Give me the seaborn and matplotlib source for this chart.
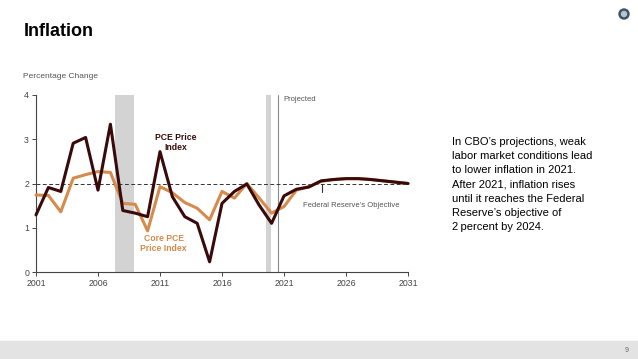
import matplotlib
matplotlib.use("Agg")
import matplotlib.pyplot as plt
from matplotlib.patches import Ellipse, Rectangle
import seaborn as sns
import pandas as pd

# ---- data ----
years = list(range(2001, 2032))
pce = [1.29, 1.91, 1.82, 2.91, 3.04, 1.85, 3.34, 1.39, 1.33, 1.25,
       2.72, 1.70, 1.25, 1.10, 0.23, 1.55, 1.82, 1.99, 1.51, 1.10,
       1.72, 1.87, 1.92, 2.06, 2.09, 2.11, 2.11, 2.09, 2.06, 2.03, 2.00]
core_pce = [1.74, 1.73, 1.36, 2.12, 2.20, 2.27, 2.25, 1.55, 1.53, 0.93,
            1.93, 1.79, 1.57, 1.44, 1.18, 1.82, 1.67, 2.00, 1.67, 1.33,
            1.48, 1.85, 1.93, 2.05, 2.09, 2.11, 2.11, 2.09, 2.06, 2.03, 2.00]
recessions = [(2007.4, 2008.9), (2019.55, 2019.93)]
projected_start = 2020.55
fed_objective = 2.0
x_ticks = [2001, 2006, 2011, 2016, 2021, 2026, 2031]
y_ticks = [0, 1, 2, 3, 4]

note_lines = ["In CBO\u2019s projections, weak",
              "labor market conditions lead",
              "to lower inflation in 2021.",
              "After 2021, inflation rises",
              "until it reaches the Federal",
              "Reserve\u2019s objective of",
              "2\u2009percent by 2024."]

dark = "#3a0a0a"
orange = "#d68a4c"
grey_txt = "#555555"

df = pd.DataFrame({"year": years, "pce": pce, "core": core_pce})

sns.set_theme(style="white")
plt.rcParams["font.family"] = ["Liberation Sans", "DejaVu Sans"]

fig = plt.figure(figsize=(6.38, 3.59), dpi=100)
ax = fig.add_axes([36 / 638, 1 - 272 / 359, 372 / 638, 177 / 359])

# shaded recessions and projection marker
for a, b in recessions:
    ax.axvspan(a, b, color="#d3d3d3", lw=0, zorder=0)
ax.axvline(projected_start, color="#8a8a8a", lw=0.8, zorder=1)
ax.text(projected_start + 0.4, 3.97, "Projected", fontsize=5.5,
        color=grey_txt, va="top", ha="left")

# Fed objective
ax.axhline(fed_objective, color="#333333", lw=0.7, ls=(0, (4, 2.5)), zorder=2)
ax.plot([2024.1, 2024.1], [1.8, 1.98], color="#333333", lw=0.8)
ax.text(2022.5, 1.5, "Federal Reserve\u2019s Objective", fontsize=5.5,
        color=grey_txt, ha="left", va="center")

sns.lineplot(data=df, x="year", y="core", ax=ax, color=orange, lw=2.2,
             zorder=3, clip_on=False)
sns.lineplot(data=df, x="year", y="pce", ax=ax, color=dark, lw=2.2,
             zorder=4, clip_on=False)

ax.text(2012.3, 2.93, "PCE Price\nIndex", fontsize=6.2, color=dark,
        ha="center", va="center", fontweight="bold", linespacing=1.1)
ax.text(2011.3, 0.65, "Core PCE\nPrice Index", fontsize=6.2, color=orange,
        ha="center", va="center", fontweight="bold", linespacing=1.1)

ax.set_xlim(2001, 2031)
ax.set_ylim(0, 4)
ax.set_xticks(x_ticks)
ax.set_yticks(y_ticks)
ax.set_xlabel("")
ax.set_ylabel("")
ax.tick_params(axis="both", labelsize=6.3, colors="#444444", length=3,
               width=0.7, direction="out", left=True, bottom=True, pad=2)
for s in ["top", "right"]:
    ax.spines[s].set_visible(False)
for s in ["left", "bottom"]:
    ax.spines[s].set_color("#444444")
    ax.spines[s].set_linewidth(0.8)

fig.text(23 / 638, 1 - 77 / 359, "Percentage Change", fontsize=6,
         color=grey_txt, va="center", ha="left")

# title, note, footer
fig.text(24 / 638, 1 - 32 / 359, "Inflation", fontsize=13, fontweight="bold",
         color="black", va="center", ha="left")
for i, line in enumerate(note_lines):
    fig.text(452 / 638, 1 - (142 + i * 14.2) / 359, line, fontsize=8,
             color="black", va="center", ha="left")

fig.patches.append(Rectangle((0, 0), 1, 18 / 359, transform=fig.transFigure,
                             color="#e3e3e3", zorder=0))
fig.text(627 / 638, 1 - 350 / 359, "9", fontsize=5, color="#666666",
         ha="center", va="center")
# small round logo
fig.patches.append(Ellipse((624 / 638, 1 - 14 / 359), 10 / 638, 10 / 359,
                           transform=fig.transFigure, color="#3e5266"))
fig.patches.append(Ellipse((624 / 638, 1 - 14 / 359), 5 / 638, 5 / 359,
                           transform=fig.transFigure, color="#b8c4d0"))

fig.savefig("out.png", dpi=100)
